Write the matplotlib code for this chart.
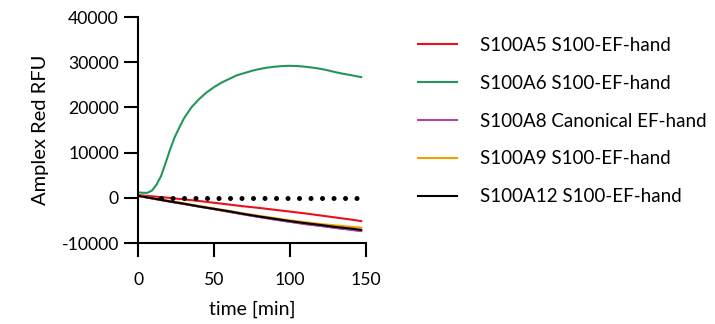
import matplotlib
matplotlib.use("Agg")
import matplotlib.pyplot as plt

plt.rcParams['font.family'] = ['Lato', 'DejaVu Sans']
plt.rcParams['axes.unicode_minus'] = False

# Data
t_green = [0, 3, 6, 9, 12, 15, 18, 21, 24, 27, 30, 35, 40, 45, 50, 55, 60, 65, 70, 75,
           80, 85, 90, 95, 100, 105, 110, 115, 120, 125, 130, 135, 140, 147]
s100a6 = [1200, 1100, 1100, 1600, 2900, 4800, 7700, 10700, 13400, 15500, 17500, 20000,
          21800, 23300, 24500, 25500, 26300, 27100, 27600, 28100, 28500, 28800, 29000,
          29150, 29200, 29150, 29000, 28800, 28550, 28200, 27800, 27450, 27150, 26700]

t_low = [0, 10, 20, 30, 40, 50, 60, 70, 80, 90, 100, 110, 120, 130, 140, 147]
s100a5 = [600, 300, 0, -350, -700, -1100, -1500, -1900, -2250, -2650, -3050, -3450,
          -3900, -4350, -4800, -5150]
s100a8 = [400, -200, -800, -1350, -1950, -2500, -3100, -3700, -4250, -4800, -5300,
          -5800, -6200, -6650, -7050, -7350]
s100a9 = [500, -100, -650, -1200, -1800, -2350, -2900, -3500, -4000, -4500, -5000,
          -5400, -5800, -6100, -6400, -6600]
s100a12 = [450, -150, -750, -1300, -1900, -2450, -3000, -3600, -4150, -4650, -5150,
           -5600, -6000, -6450, -6800, -7100]

baseline_t = [15, 145.5]
baseline = [0, 0]

labels = ["S100A5 S100-EF-hand", "S100A6 S100-EF-hand", "S100A8 Canonical EF-hand",
          "S100A9 S100-EF-hand", "S100A12 S100-EF-hand"]
colors = ["#e8101c", "#25965a", "#b0469c", "#f59c00", "#000000"]

fig = plt.figure(figsize=(7.15, 3.24), dpi=100)
ax = fig.add_axes([0.1934, 0.25, 0.3181, 0.6975])

series = [(t_low, s100a5), (t_green, s100a6), (t_low, s100a8), (t_low, s100a9), (t_low, s100a12)]
handles = []
for (tt, yy), c, lab in zip(series, colors, labels):
    h, = ax.plot(tt, yy, color=c, lw=1.5, label=lab)
    handles.append(h)
ax.plot(t_low, s100a8, color=colors[2], lw=1.5, zorder=1.9)
ax.plot(baseline_t, baseline, color='black', lw=3.6, linestyle=(0, (0.01, 2.29)),
        dash_capstyle='round', zorder=5)

ax.set_xlim(0, 150)
ax.set_ylim(-10000, 40000)
ax.set_xticks([0, 50, 100, 150])
ax.set_yticks([-10000, 0, 10000, 20000, 30000, 40000])
for s in ['top', 'right']:
    ax.spines[s].set_visible(False)
for s in ['left', 'bottom']:
    ax.spines[s].set_linewidth(1.5)
ax.tick_params(direction='out', length=10, width=1.5, labelsize=12.7, pad=4)
ax.tick_params(axis='x', pad=11)
ax.set_xlabel("time [min]", fontsize=14, labelpad=9)
ax.set_ylabel("Amplex Red RFU", fontsize=14.5, labelpad=9)

fig.legend(handles=handles, labels=labels, loc='upper left',
           bbox_to_anchor=(0.584, 0.886), frameon=False, fontsize=13.5,
           handlelength=2.13, handletextpad=1.2, labelspacing=1.11,
           borderaxespad=0, borderpad=0)

fig.savefig("out.png", dpi=100)
